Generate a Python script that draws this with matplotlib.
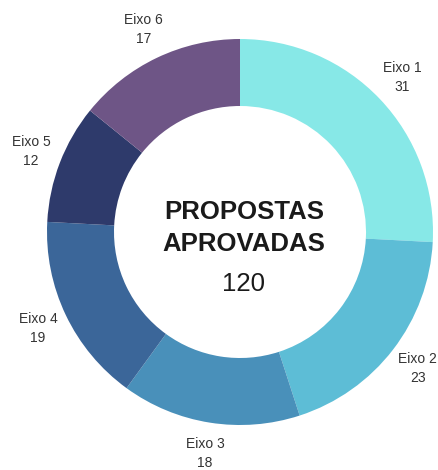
import numpy as np
import matplotlib
matplotlib.use("Agg")
import matplotlib.pyplot as plt

eixos = ["Eixo 1", "Eixo 2", "Eixo 3", "Eixo 4", "Eixo 5", "Eixo 6"]
valores = [31, 23, 18, 19, 12, 17]
cores = ["#87E8E7", "#5DBDD6", "#4990BA", "#3B6699", "#2E3A6B", "#6E5586"]
titulo = ["PROPOSTAS", "APROVADAS"]
total = sum(valores)

fig = plt.figure(figsize=(4.38, 4.70), dpi=100)
ax = fig.add_axes([0, 0, 1, 1])

cx, cy, r = 240, 238, 193
wedges, _ = ax.pie(valores, colors=cores, startangle=90, counterclock=False,
                   center=(cx, cy), radius=r, frame=True,
                   wedgeprops=dict(width=67, linewidth=0))
ax.set_xlim(0, 438)
ax.set_ylim(0, 470)
ax.set_aspect("equal")
ax.axis("off")

for w, nome, v in zip(wedges, eixos, valores):
    ang = np.deg2rad((w.theta1 + w.theta2) / 2)
    x = cx + 1.16 * r * np.cos(ang)
    y = cy + 1.16 * r * np.sin(ang)
    ax.text(x, y, "{}\n{}".format(nome, v), ha="center", va="center",
            fontsize=10, color="#333333", family="Liberation Sans", linespacing=1.45)

ax.text(cx + 4, 258, titulo[0], ha="center", va="center", fontsize=18.5,
        fontweight="bold", family="Liberation Sans", color="#1a1a1a")
ax.text(cx + 4, 226, titulo[1], ha="center", va="center", fontsize=18.5,
        fontweight="bold", family="Liberation Sans", color="#1a1a1a")
ax.text(cx + 3, 186, str(total), ha="center", va="center", fontsize=18.5,
        family="Liberation Sans", color="#1a1a1a")

fig.savefig("out.png", dpi=100)
